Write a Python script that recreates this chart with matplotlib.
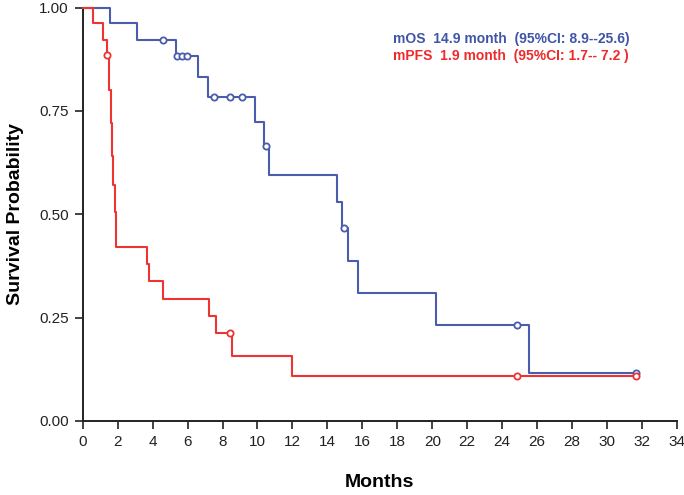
import matplotlib
matplotlib.use("Agg")
import matplotlib.pyplot as plt

plt.rcParams['font.family'] = ['Liberation Sans', 'DejaVu Sans']

# Overall survival (OS) - event times and survival after each drop
os_times = [0, 1.56, 3.13, 5.32, 6.60, 7.16, 9.83, 10.38, 10.66, 14.57, 14.84, 15.19, 15.74, 20.22, 25.51, 31.67]
os_surv = [1.0, 0.963, 0.922, 0.882, 0.831, 0.784, 0.723, 0.664, 0.596, 0.530, 0.466, 0.388, 0.310, 0.233, 0.117, 0.117]
os_cens_t = [4.60, 5.41, 5.70, 5.97, 7.53, 8.40, 9.12, 10.49, 14.94, 24.82, 31.67]
os_cens_s = [0.922, 0.882, 0.882, 0.882, 0.784, 0.784, 0.784, 0.664, 0.466, 0.233, 0.117]

# Progression-free survival (PFS)
pfs_times = [0, 0.57, 1.18, 1.41, 1.51, 1.64, 1.70, 1.76, 1.82, 1.91, 3.66, 3.78, 4.58, 7.21, 7.65, 8.53, 12.0, 31.67]
pfs_surv = [1.0, 0.963, 0.922, 0.885, 0.80, 0.72, 0.64, 0.57, 0.505, 0.42, 0.38, 0.338, 0.295, 0.253, 0.213, 0.158, 0.109, 0.109]
pfs_cens_t = [1.41, 8.43, 24.82, 31.67]
pfs_cens_s = [0.885, 0.213, 0.109, 0.109]

x_ticks = list(range(0, 35, 2))
y_ticks = [0.0, 0.25, 0.50, 0.75, 1.00]

blue = '#4A5DAD'
red = '#EE3333'

fig = plt.figure(figsize=(6.84, 4.95), dpi=100)
x0, x1, y0, y1 = 82.7, 677, 421, 7.5
ax = fig.add_axes([x0/684, (495-y0)/495, (x1-x0)/684, (y0-y1)/495])

ax.step(os_times, os_surv, where='post', color=blue, lw=1.5, clip_on=False, zorder=3)
ax.step(pfs_times, pfs_surv, where='post', color=red, lw=1.5, clip_on=False, zorder=3)
ax.plot(os_cens_t, os_cens_s, 'o', ms=4.5, mfc='white', mec=blue, mew=1.3, clip_on=False, zorder=4)
ax.plot(pfs_cens_t, pfs_cens_s, 'o', ms=4.5, mfc='white', mec=red, mew=1.3, clip_on=False, zorder=4)

ax.set_xlim(0, 34)
ax.set_ylim(0, 1)
ax.set_xticks(x_ticks)
ax.set_yticks(y_ticks)
ax.set_yticklabels([f'{v:.2f}' for v in y_ticks])
ax.spines['top'].set_visible(False)
ax.spines['right'].set_visible(False)
for s in ['left', 'bottom']:
    ax.spines[s].set_linewidth(1.4)
    ax.spines[s].set_color('#222222')
ax.tick_params(axis='both', direction='out', length=6, width=1.2, labelsize=11, colors='#222222', pad=4)

ax.set_xlabel('Months', fontsize=14, fontweight='bold', labelpad=18)
ax.set_ylabel('Survival Probability', fontsize=14, fontweight='bold', labelpad=11)

fig.text(393/684, 1-39/495, 'mOS  14.9 month  (95%CI: 8.9--25.6)', color='#3F55A8',
         fontsize=10, fontweight='bold', va='center', ha='left')
fig.text(393/684, 1-56/495, 'mPFS  1.9 month  (95%CI: 1.7-- 7.2 )', color='#EE2A2A',
         fontsize=10, fontweight='bold', va='center', ha='left')

fig.savefig('out.png', dpi=100)
